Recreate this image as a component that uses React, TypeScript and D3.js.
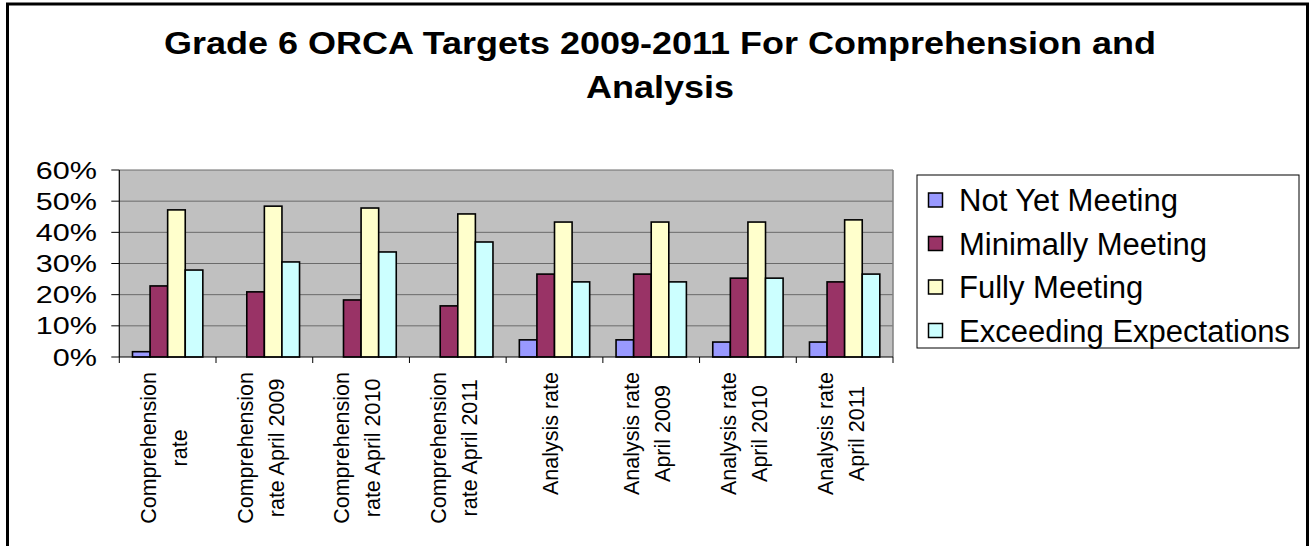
import React, { useEffect, useRef } from 'react';
import * as d3 from 'd3';

const categories = [
  "Comprehension\nrate",
  "Comprehension\nrate April 2009",
  "Comprehension\nrate April 2010",
  "Comprehension\nrate April 2011",
  "Analysis rate",
  "Analysis rate\nApril 2009",
  "Analysis rate\nApril 2010",
  "Analysis rate\nApril 2011",
];
const seriesNames = ["Not Yet Meeting", "Minimally Meeting", "Fully Meeting", "Exceeding Expectations"];
const notYetMeeting = [0.017, 0, 0, 0, 0.055, 0.055, 0.048, 0.048];
const minimallyMeeting = [0.228, 0.209, 0.183, 0.164, 0.266, 0.266, 0.253, 0.241];
const fullyMeeting = [0.472, 0.484, 0.478, 0.459, 0.433, 0.433, 0.433, 0.44];
const exceedingExpectations = [0.279, 0.305, 0.337, 0.369, 0.241, 0.241, 0.253, 0.266];
const seriesColors = ["#9999FF", "#993366", "#FFFFCC", "#CCFFFF"];
const yTicks = [0, 0.1, 0.2, 0.3, 0.4, 0.5, 0.6];
const titleLines = ["Grade 6 ORCA Targets 2009-2011 For Comprehension and", "Analysis"];

const FONT = '"Liberation Sans", Arial, sans-serif';

export default function App() {
  const ref = useRef<SVGSVGElement>(null);

  useEffect(() => {
    const svg = d3.select(ref.current);
    svg.selectAll('*').remove();

    const W = 1314, H = 546;
    const plot = { left: 119.3, right: 893, top: 170, bottom: 357 };
    const seriesData = [notYetMeeting, minimallyMeeting, fullyMeeting, exceedingExpectations];

    svg.append('rect').attr('x', 0).attr('y', 0).attr('width', W).attr('height', H).attr('fill', '#fff');

    // outer frame
    svg.append('rect').attr('x', 7.5).attr('y', 4).attr('width', 1300).attr('height', 580)
      .attr('fill', 'none').attr('stroke', '#000').attr('stroke-width', 3);

    // title
    const title = svg.append('g');
    titleLines.forEach((t, i) => {
      title.append('text')
        .attr('transform', `translate(660,${54 + i * 44}) scale(1.125,1)`)
        .attr('text-anchor', 'middle')
        .attr('font-family', FONT).attr('font-weight', 'bold').attr('font-size', 32)
        .attr('fill', '#000').text(t);
    });

    const x = d3.scaleBand<string>().domain(categories).range([plot.left, plot.right]).padding(0);
    const xs = d3.scaleBand<number>().domain(d3.range(seriesNames.length)).range([0, x.bandwidth()])
      .paddingInner(0).paddingOuter(0.75);
    const y = d3.scaleLinear().domain([0, 0.6]).range([plot.bottom, plot.top]);

    // plot background
    svg.append('rect').attr('x', plot.left).attr('y', plot.top)
      .attr('width', plot.right - plot.left).attr('height', plot.bottom - plot.top)
      .attr('fill', '#C0C0C0');

    // gridlines
    svg.append('g').selectAll('line').data(yTicks.filter(d => d > 0)).join('line')
      .attr('x1', plot.left).attr('x2', plot.right)
      .attr('y1', d => y(d)).attr('y2', d => y(d))
      .attr('stroke', '#6a6a6a').attr('stroke-width', 1);
    svg.append('line').attr('x1', plot.right).attr('x2', plot.right)
      .attr('y1', plot.top).attr('y2', plot.bottom).attr('stroke', '#808080').attr('stroke-width', 1.5);

    // bars
    seriesData.forEach((vals, si) => {
      svg.append('g').selectAll('rect').data(vals.map((v, ci) => ({ v, c: categories[ci] })).filter(d => d.v > 0))
        .join('rect')
        .attr('x', d => (x(d.c) as number) + (xs(si) as number))
        .attr('y', d => y(d.v))
        .attr('width', xs.bandwidth())
        .attr('height', d => y(0) - y(d.v))
        .attr('fill', seriesColors[si])
        .attr('stroke', '#000').attr('stroke-width', 1.6);
    });

    // axes
    svg.append('line').attr('x1', plot.left).attr('x2', plot.left).attr('y1', plot.top).attr('y2', plot.bottom)
      .attr('stroke', '#000').attr('stroke-width', 1.2);
    svg.append('line').attr('x1', plot.left).attr('x2', plot.right).attr('y1', plot.bottom).attr('y2', plot.bottom)
      .attr('stroke', '#000').attr('stroke-width', 1.2);
    svg.append('g').selectAll('line').data(yTicks).join('line')
      .attr('x1', plot.left - 8).attr('x2', plot.left).attr('y1', d => y(d)).attr('y2', d => y(d))
      .attr('stroke', '#000').attr('stroke-width', 1);
    const boundaries = categories.map(c => x(c) as number).concat([plot.right]);
    svg.append('g').selectAll('line').data(boundaries).join('line')
      .attr('x1', d => d).attr('x2', d => d).attr('y1', plot.bottom).attr('y2', plot.bottom + 6)
      .attr('stroke', '#000').attr('stroke-width', 1);

    // y labels
    svg.append('g').selectAll('text').data(yTicks).join('text')
      .attr('transform', d => `translate(97,${y(d) + 8.5}) scale(1.33,1)`)
      .attr('text-anchor', 'end')
      .attr('font-family', FONT).attr('font-size', 23).attr('fill', '#000')
      .text(d => d3.format('.0%')(d));

    // x labels (rotated)
    const lh = 31, fs = 21.5, topY = 372;
    categories.forEach(c => {
      const lines = c.split('\n');
      const cx = (x(c) as number) + x.bandwidth() / 2 - 4;
      const g = svg.append('g');
      const texts = lines.map((ln) => g.append('text')
        .attr('font-family', FONT).attr('font-size', fs).attr('fill', '#000')
        .attr('text-anchor', 'middle').text(ln));
      const maxLen = d3.max(texts, t => (t.node() as SVGTextElement).getComputedTextLength()) || 0;
      texts.forEach((t, i) => {
        const bx = cx + (i - (lines.length - 1) / 2) * lh + fs * 0.36;
        t.attr('transform', `translate(${bx},${topY + maxLen / 2}) rotate(-90)`);
      });
    });

    // legend
    const lg = svg.append('g');
    lg.append('rect').attr('x', 917).attr('y', 175).attr('width', 382).attr('height', 173)
      .attr('fill', '#fff').attr('stroke', '#000').attr('stroke-width', 1);
    seriesNames.forEach((n, i) => {
      const cy = 200 + i * 43.5;
      lg.append('rect').attr('x', 928.5).attr('y', cy - 7).attr('width', 14).attr('height', 14)
        .attr('fill', seriesColors[i]).attr('stroke', '#000').attr('stroke-width', 1.5);
      lg.append('text').attr('x', 959).attr('y', cy + 11)
        .attr('font-family', FONT).attr('font-size', 31).attr('fill', '#000').text(n);
    });
  }, []);

  return (
    <svg ref={ref} width={1314} height={546}
      style={{ position: 'absolute', left: 0, top: 0, display: 'block' }} />
  );
}
